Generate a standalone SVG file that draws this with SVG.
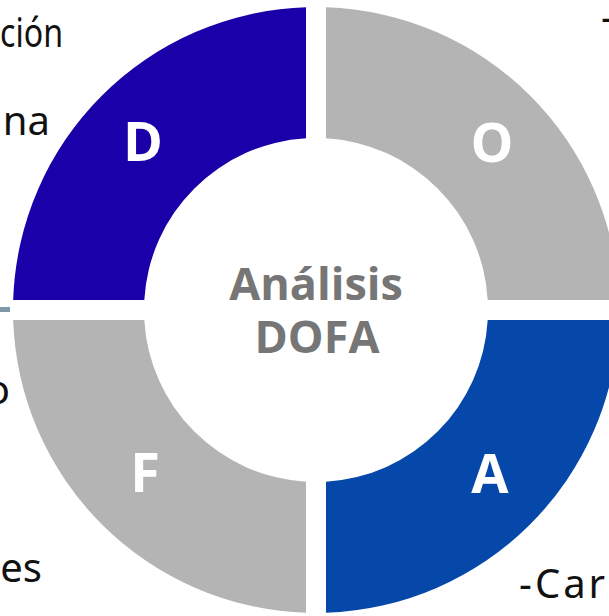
<svg xmlns="http://www.w3.org/2000/svg" width="609" height="616" viewBox="0 0 609 616">
<style>
.side{font-family:"Noto Sans","Open Sans",sans-serif;font-size:40px;fill:#111}
.q{font-family:"Open Sans","DejaVu Sans",sans-serif;font-weight:bold;font-size:54px;fill:#fff;text-anchor:middle}
.c{font-family:"Open Sans","DejaVu Sans",sans-serif;font-weight:bold;font-size:45px;fill:#767676;text-anchor:middle}
</style>
<rect width="609" height="616" fill="#fff"/>
<g id="side-texts">
<text class="side" x="0" y="47" textLength="63" lengthAdjust="spacingAndGlyphs">ción</text>
<text class="side" x="50" y="135" text-anchor="end">na</text>
<text class="side" x="10" y="404" text-anchor="end">o</text>
<text class="side" x="42" y="582" text-anchor="end">es</text>
<text class="side" x="519" y="598" letter-spacing="3">-Car</text>
<text class="side" x="601" y="31">-</text>
<rect x="0" y="307" width="10" height="5" fill="#7F98A8"/>
</g>
<g id="node-D">
<path d="M13.17,300 A303,303 0 0 1 306,7.17 L306,138.29 A172,172 0 0 0 144.29,300 Z" fill="#1A00A8"/>
<text class="q" x="143" y="161">D</text>
</g>
<g id="node-O">
<path d="M326,7.17 A303,303 0 0 1 618.83,300 L487.71,300 A172,172 0 0 0 326,138.29 Z" fill="#B4B4B4"/>
<text class="q" x="492" y="162">O</text>
</g>
<g id="node-A">
<path d="M618.83,320 A303,303 0 0 1 326,612.83 L326,481.71 A172,172 0 0 0 487.71,320 Z" fill="#0548AA"/>
<text class="q" x="490" y="493">A</text>
</g>
<g id="node-F">
<path d="M306,612.83 A303,303 0 0 1 13.17,320 L144.29,320 A172,172 0 0 0 306,481.71 Z" fill="#B4B4B4"/>
<text class="q" x="145" y="492">F</text>
</g>
<g id="center">
<text class="c" x="316" y="300">Análisis</text>
<text class="c" x="317" y="353">DOFA</text>
</g>
<g id="connectors"/>
</svg>
